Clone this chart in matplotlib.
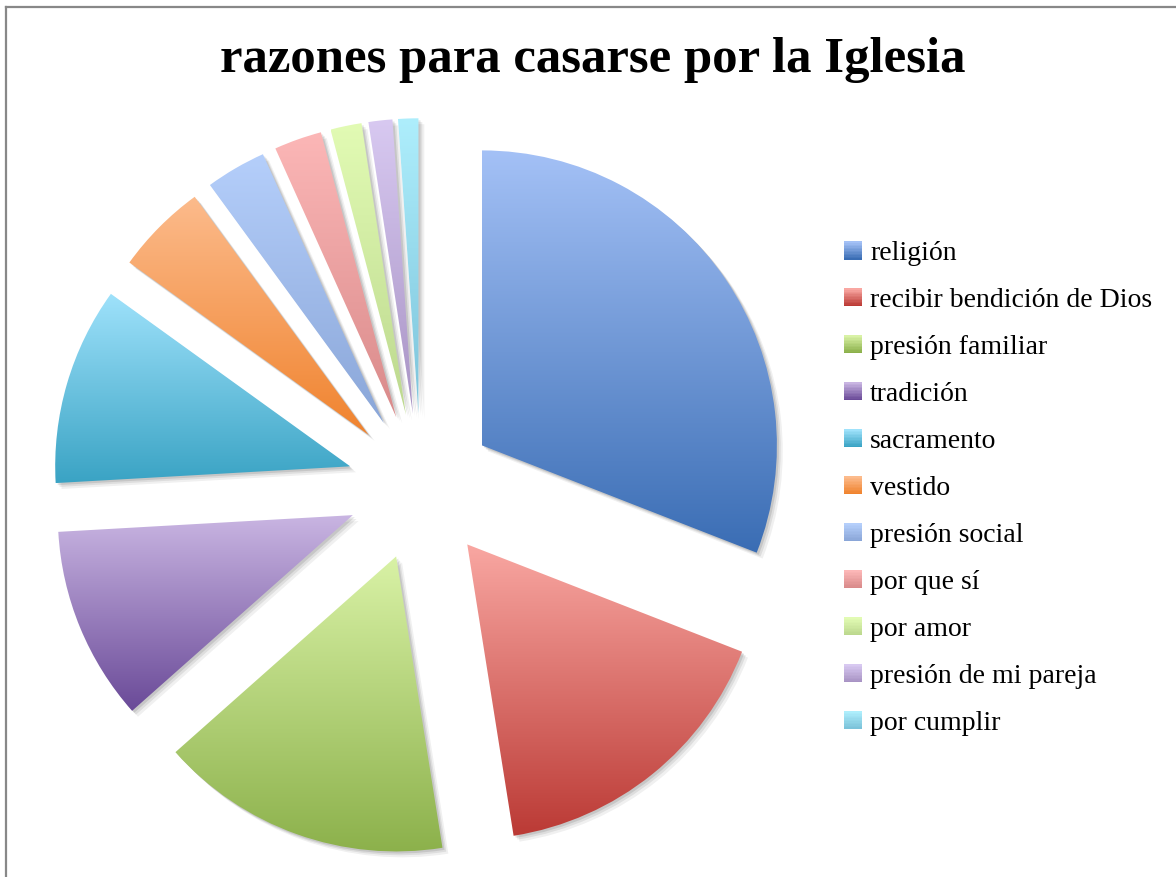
import numpy as np
import matplotlib
matplotlib.use("Agg")
import matplotlib.pyplot as plt
from matplotlib.patches import Wedge, Rectangle
from matplotlib.lines import Line2D
from matplotlib.legend_handler import HandlerBase
from matplotlib.colors import LinearSegmentedColormap

# data (percent)
labels = ["religión", "recibir bendición de Dios", "presión familiar", "tradición",
          "sacramento", "vestido", "presión social", "por que sí", "por amor",
          "presión de mi pareja", "por cumplir"]
values = [30.8, 16.5, 15.9, 10.6, 10.8, 5.0, 3.3, 2.6, 1.7, 1.3, 1.1]

# gradient colours (top, bottom) per slice
tops = ["#a4c1f6", "#f9a7a2", "#d9f2a6", "#c9b5e2", "#9fe2fb", "#fcbb8c",
        "#b5cffb", "#fcb7b7", "#e2fbb4", "#d8c9f1", "#aeeefc"]
bottoms = ["#3a6db4", "#bb3a35", "#8bb04a", "#6a4a98", "#3aa3c4", "#f0832e",
           "#8aa6d8", "#d98a8a", "#bcd88e", "#a893c4", "#7cc3da"]

fig = plt.figure(figsize=(11.76, 8.77), dpi=100)
W, H = 1176, 877

# pie axes: centre (421, 487) px, radius 295 px
cx, cy, r = 421, 487, 295
lim = 1.3
side = 2 * lim * r
ax = fig.add_axes([(cx - side / 2) / W, (H - cy - side / 2) / H, side / W, side / H])

wedges, _ = ax.pie(values, startangle=90, counterclock=False,
                   explode=[0.25] * len(values), radius=1.0)
ax.set_aspect("equal")
ax.axis("off")

for w, top, bot in zip(wedges, tops, bottoms):
    v = w.get_path().vertices
    x0, x1 = v[:, 0].min(), v[:, 0].max()
    y0, y1 = v[:, 1].min(), v[:, 1].max()
    # soft shadow
    for k, a in [(0.02, 0.06), (0.013, 0.08), (0.007, 0.1)]:
        sh = Wedge((w.center[0] + k, w.center[1] - k), w.r, w.theta1, w.theta2,
                   facecolor="black", edgecolor="none", alpha=a, zorder=1)
        ax.add_patch(sh)
    w.set_facecolor("none")
    w.set_edgecolor("none")
    w.set_zorder(3)
    cmap = LinearSegmentedColormap.from_list("g", [bot, top])
    grad = np.linspace(0, 1, 256).reshape(-1, 1)
    im = ax.imshow(grad, cmap=cmap, extent=(x0, x1, y0, y1), origin="lower",
                   aspect="auto", zorder=2, interpolation="bilinear")
    im.set_clip_path(w)
ax.set_xlim(-lim, lim)
ax.set_ylim(-lim, lim)


class GradientSquare(HandlerBase):
    def __init__(self, top, bot):
        super().__init__()
        self.top, self.bot = top, bot

    def create_artists(self, legend, orig_handle, xdescent, ydescent, width,
                       height, fontsize, trans):
        cmap = LinearSegmentedColormap.from_list("g", [self.bot, self.top])
        n = 12
        s = min(width, height) * 0.95
        x = xdescent * -1 + (width - s)
        y = -ydescent + (height - s) / 2
        arts = []
        for i in range(n):
            arts.append(Rectangle((x, y + s * i / n), s, s / n + 0.3,
                                  facecolor=cmap(i / (n - 1)), edgecolor="none",
                                  transform=trans))
        return arts


handles = [Rectangle((0, 0), 1, 1) for _ in labels]
hmap = {h: GradientSquare(t, b) for h, t, b in zip(handles, tops, bottoms)}
leg = fig.legend(handles, labels, handler_map=hmap, loc="upper left",
                 bbox_to_anchor=(843 / W, 1 - 241 / H), frameon=False,
                 prop={"family": "Liberation Serif", "size": 20},
                 handlelength=0.68, handleheight=0.68, handletextpad=0.3,
                 labelspacing=0.78, borderpad=0, borderaxespad=0)

fig.text(593 / W, 1 - 60 / H, "razones para casarse por la Iglesia",
         ha="center", va="center", fontsize=36.5, fontweight="bold",
         family="Liberation Serif")

# chart border (left and top visible)
fig.add_artist(Line2D([6 / W, 6 / W], [0, 1 - 7 / H], color="#888888", lw=1.6,
                      transform=fig.transFigure))
fig.add_artist(Line2D([6 / W, 1], [1 - 7 / H, 1 - 7 / H], color="#888888", lw=1.6,
                      transform=fig.transFigure))

fig.savefig("out.png", dpi=100)
